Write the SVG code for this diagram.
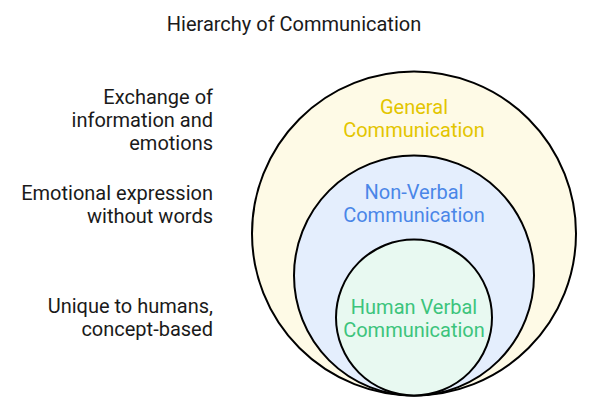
<svg xmlns="http://www.w3.org/2000/svg" width="589" height="410" viewBox="0 0 589 410">
<style>
text{font-family:Roboto,"Liberation Sans",sans-serif;}
.t{font-size:20px;fill:#1a1a1a;text-anchor:middle;}
.l{font-size:20px;fill:#1a1a1a;text-anchor:end;}
.c{font-size:20px;text-anchor:middle;}
circle{stroke:#000;stroke-width:2;}
</style>
<rect width="589" height="410" fill="#fff"/>
<text class="t" x="294" y="31">Hierarchy of Communication</text>
<g id="general">
<circle cx="414" cy="233.5" r="162" fill="#FEFAE6"/>
<text class="c" x="414" y="114" fill="#E3C500">General</text>
<text class="c" x="414" y="137" fill="#E3C500">Communication</text>
</g>
<g id="nonverbal">
<circle cx="414" cy="275.5" r="120" fill="#E4EEFD"/>
<text class="c" x="414" y="199" fill="#4A86E8">Non-Verbal</text>
<text class="c" x="414" y="222" fill="#4A86E8">Communication</text>
</g>
<g id="human">
<circle cx="414" cy="317.5" r="78" fill="#E8F9F1"/>
<text class="c" x="414" y="314" fill="#3CC47C">Human Verbal</text>
<text class="c" x="414" y="337" fill="#3CC47C">Communication</text>
</g>
<g id="labels">
<text class="l" x="213" y="104">Exchange of</text>
<text class="l" x="213" y="127">information and</text>
<text class="l" x="213" y="150">emotions</text>
<text class="l" x="213" y="200">Emotional expression</text>
<text class="l" x="213" y="223">without words</text>
<text class="l" x="213" y="313">Unique to humans,</text>
<text class="l" x="213" y="336">concept-based</text>
</g>
<g id="connectors"></g>
</svg>
